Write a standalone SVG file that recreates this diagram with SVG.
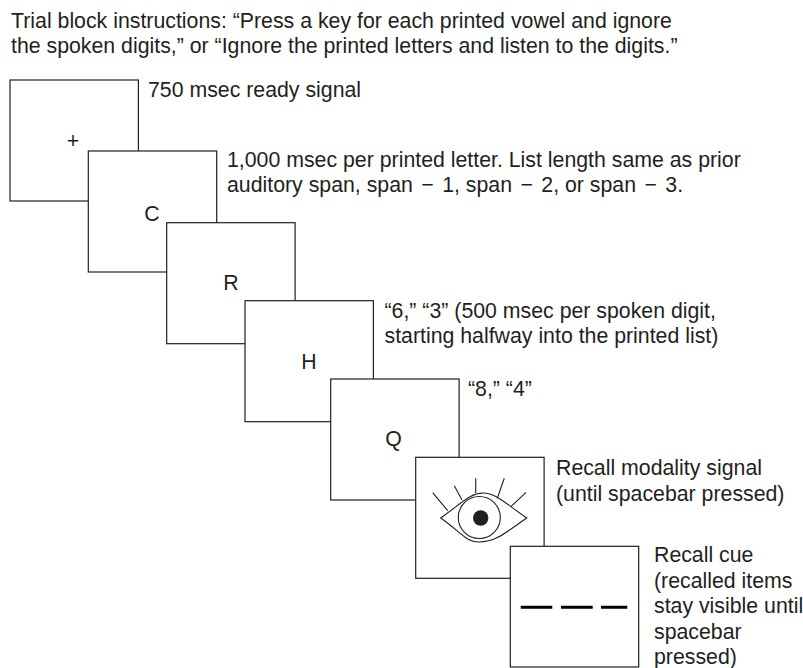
<svg xmlns="http://www.w3.org/2000/svg" width="803" height="668" viewBox="0 0 803 668">
<style>
text{font-family:"Liberation Sans",Arial,sans-serif;font-size:21.3px;fill:#231f20}
.b{fill:#fff;stroke:#231f20;stroke-width:1.2}
.l{fill:none;stroke:#231f20;stroke-width:1.1}
.m{text-anchor:middle}
</style>
<rect width="803" height="668" fill="#fff"/>
<g id="instructions"><text x="11" y="27.5">Trial block instructions: “Press a key for each printed vowel and ignore</text><text x="11" y="53">the spoken digits,” or “Ignore the printed letters and listen to the digits.”</text></g>
<g id="n1"><rect class="b" x="10" y="80" width="128.4" height="121"/><text class="m" x="73" y="148">+</text><text x="148" y="97">750 msec ready signal</text></g>
<g id="n2"><rect class="b" x="88.3" y="151" width="128.4" height="121"/><text class="m" x="152" y="221">C</text><text x="227" y="167">1,000 msec per printed letter. List length same as prior</text><text x="227" y="192">auditory span, span <tspan dx="2.5">−</tspan><tspan dx="2.5"> 1,</tspan> span <tspan dx="2.5">−</tspan><tspan dx="2.5"> 2,</tspan> or span <tspan dx="2.5">−</tspan><tspan dx="2.5"> 3.</tspan></text></g>
<g id="n3"><rect class="b" x="166.7" y="222.7" width="128.4" height="121"/><text class="m" x="231" y="290">R</text></g>
<g id="n4"><rect class="b" x="245" y="300.7" width="128.4" height="121"/><text class="m" x="309" y="369">H</text><text x="384.5" y="318">“6,” “3” (500 msec per spoken digit,</text><text x="384.5" y="343">starting halfway into the printed list)</text></g>
<g id="n5"><rect class="b" x="330.7" y="379" width="128.4" height="121"/><text class="m" x="393.5" y="446">Q</text><text x="468" y="395.5">“8,” “4”</text></g>
<g id="n6"><rect class="b" x="415.7" y="457.3" width="128.4" height="121"/>
<path class="l" d="M440.7 518C462 503 470 493 483 493C496 493 505 503 526.7 518C505 533 496 542 479 542C466 542 462 533 440.7 518Z"/>
<circle class="l" cx="479.3" cy="517.5" r="21"/><circle cx="480.7" cy="518" r="7.7" fill="#231f20"/>
<path class="l" d="M447.7 510.7L432.7 492.7M462 500L454.3 485.7M475.7 493.3V478.3M497.3 498.3L504.3 478.3M511 506.7L526 492.3"/>
<text x="556" y="475">Recall modality signal</text><text x="556" y="501">(until spacebar pressed)</text></g>
<g id="n7"><rect class="b" x="510.3" y="546.3" width="128.4" height="120.7"/>
<path d="M520.7 607.3H552.3M561 607.3H592.7M601 607.3H627.3" fill="none" stroke="#000" stroke-width="3"/>
<text x="654" y="562">Recall cue</text><text x="654" y="587.7">(recalled items</text><text x="654" y="613">stay visible until</text><text x="654" y="639">spacebar</text><text x="654" y="664">pressed)</text></g>
<g id="connectors"></g>
</svg>
